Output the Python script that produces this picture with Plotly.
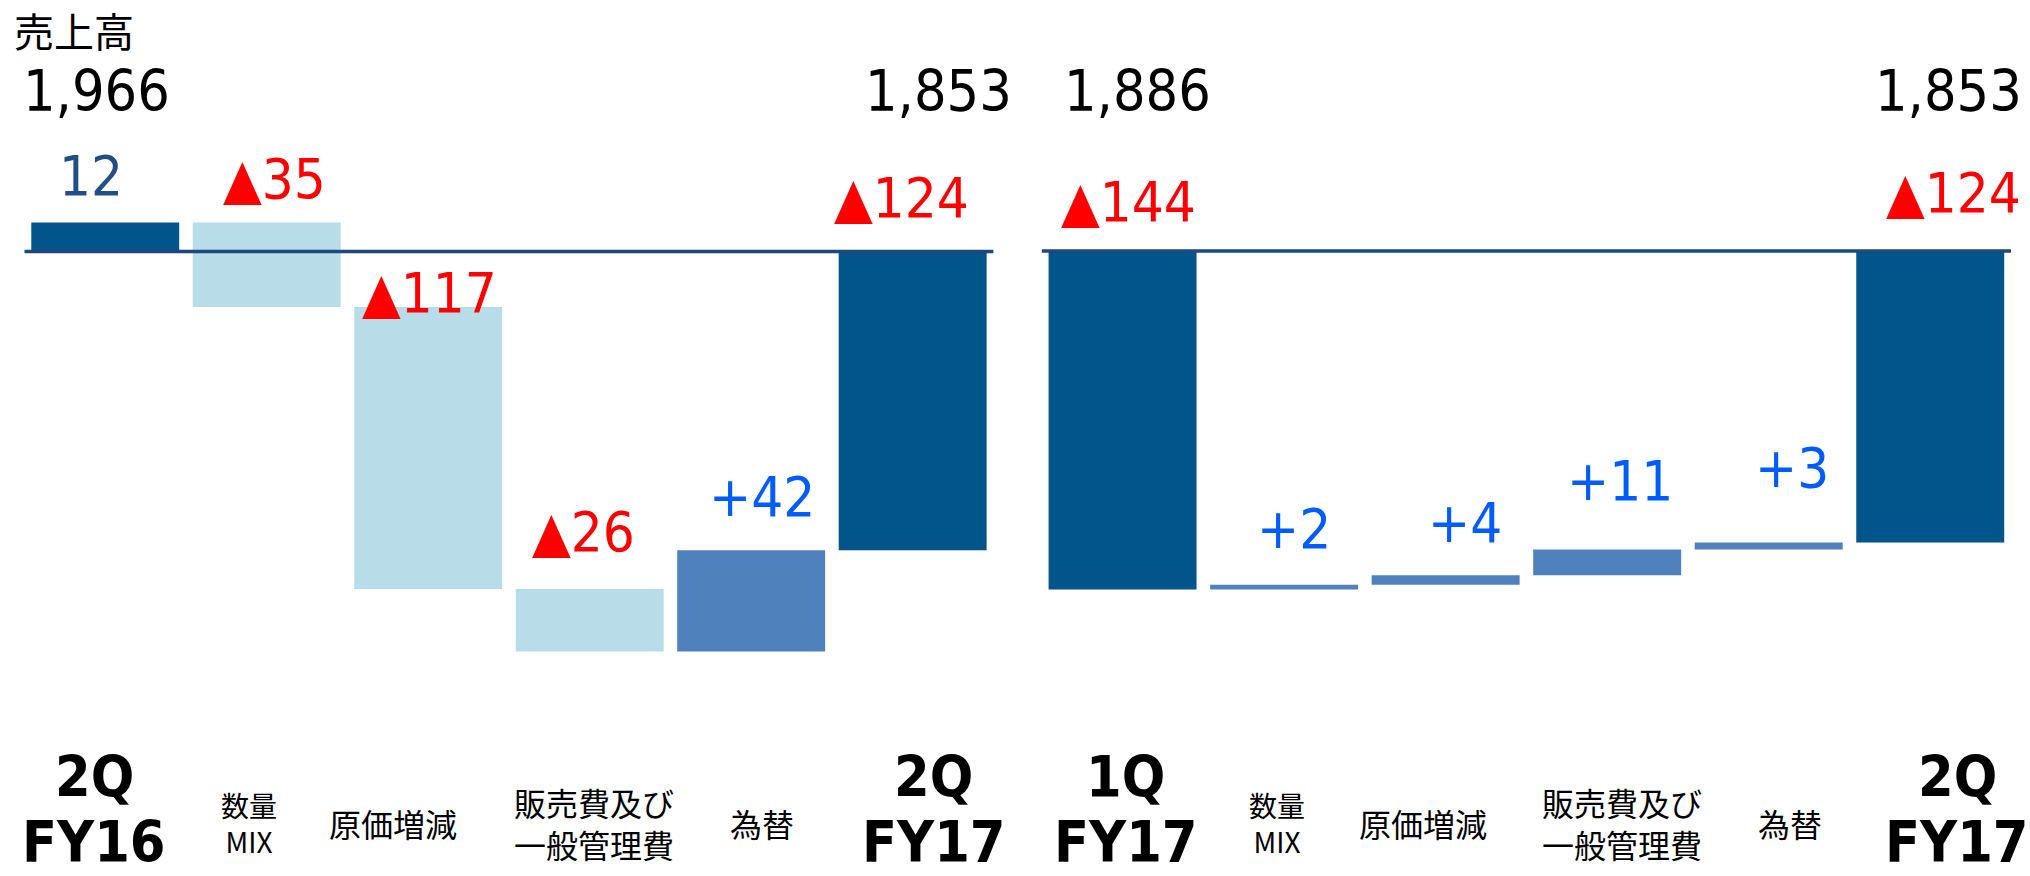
import plotly.graph_objects as go

# ---------------- data ----------------
categories_1 = ["2Q FY16", "数量MIX", "原価増減", "販売費及び一般管理費", "為替", "2Q FY17"]
measures_1 = ["absolute", "relative", "relative", "relative", "relative", "total"]
values_1 = [12, -35, -117, -26, 42, -124]
sales_1 = [1966, None, None, None, None, 1853]
labels_1 = ["2Q\nFY16", "数量\nMIX", "原価増減", "販売費及び\n一般管理費", "為替", "2Q\nFY17"]

categories_2 = ["1Q FY17", "数量MIX", "原価増減", "販売費及び一般管理費", "為替", "2Q FY17"]
measures_2 = ["absolute", "relative", "relative", "relative", "relative", "total"]
values_2 = [-144, 2, 4, 11, 3, -124]
sales_2 = [1886, None, None, None, None, 1853]
labels_2 = ["1Q\nFY17", "数量\nMIX", "原価増減", "販売費及び\n一般管理費", "為替", "2Q\nFY17"]

title_text = "売上高"

# ---------------- style ----------------
W, H = 2030, 876
C_TOTAL = "#02558B"
C_DEC = "#B8DDE8"
C_INC = "#4F81BD"
C_LINE = "#1F497D"
C_RED = "#FF0000"
C_BLUE = "#005CFF"
C_NAVY = "#1F4E89"
NUM_FONT = "DejaVu Sans Condensed, DejaVu Sans, sans-serif"
JP_FONT = "Noto Sans CJK JP, sans-serif"

# per-label pixel offsets (label baseline gap above bar top, horizontal shifts)
gap_1 = [27, 24, -6, 37, 34, 34]
dx_1 = [-14, 8, 1, -6, 11, -11]
gap_2 = [30, 36, 33, 49, 55, 39]
dx_2 = [6, 10, 19, 13, 23, 23]
sales_dx_1 = [-9, 0, 0, 0, 0, 26]
sales_dx_2 = [15, 0, 0, 0, 0, 18]
cat_dx_1 = [-11, -18, -35, 4, 11, 21]
cat_dx_2 = [3, -7, -23, 15, 21, 27]

fig = go.Figure()


def add_panel(cats, measures, vals, sales, labels, xa, ya, gaps, dxs, sdx, cdx):
    xref = "x" if xa == 1 else f"x{xa}"
    yref = "y" if ya == 1 else f"y{ya}"
    fig.add_trace(go.Waterfall(
        x=cats, y=vals, measure=measures,
        xaxis=xref, yaxis=yref,
        totals=dict(marker=dict(color=C_TOTAL, line=dict(width=0))),
        decreasing=dict(marker=dict(color=C_DEC, line=dict(width=0))),
        increasing=dict(marker=dict(color=C_INC, line=dict(width=0))),
        connector=dict(visible=False),
        textinfo="none", hoverinfo="skip", showlegend=False,
    ))
    cum = 0
    for i, (c, m, v) in enumerate(zip(cats, measures, vals)):
        if m == "absolute":
            start, end = 0, v
            cum = v
            shown = v
        elif m == "total":
            start, end = 0, cum
            shown = cum
        else:
            start, end = cum, cum + v
            cum = cum + v
            shown = v
        top = max(start, end)
        if shown < 0:
            txt, col = f"▲{abs(shown)}", C_RED
        elif m == "relative":
            txt, col = f"+{shown}", C_BLUE
        else:
            txt, col = f"{shown}", C_NAVY
        fig.add_annotation(
            x=c, y=top, xref=xref, yref=yref, text=txt, showarrow=False,
            xanchor="center", yanchor="middle", yshift=gaps[i] + 20, xshift=dxs[i],
            font=dict(family=NUM_FONT, size=56, color=col),
        )
        if sales[i] is not None:
            fig.add_annotation(
                x=c, y=1 - 91 / H, xref=xref, yref="paper", text=f"{sales[i]:,}",
                showarrow=False, xanchor="center", yanchor="middle", xshift=sdx[i],
                font=dict(family=NUM_FONT, size=57, color="#000000"),
            )
        # category labels
        lines = labels[i].split("\n")
        if m in ("absolute", "total"):
            fig.add_annotation(
                x=c, y=1 - 777 / H, xref=xref, yref="paper",
                text=f"<b>{lines[0]}</b>", showarrow=False, xanchor="center", yanchor="middle",
                xshift=cdx[i], font=dict(family=NUM_FONT, size=57, color="#000000"), borderpad=0,
            )
            fig.add_annotation(
                x=c, y=0, xref=xref, yref="paper",
                text=f"<b>{lines[1]}</b>", showarrow=False, xanchor="center", yanchor="bottom",
                xshift=cdx[i],
                font=dict(family=NUM_FONT, size=57, color="#000000"), borderpad=0,
            )
        else:
            size = 28 if labels[i].startswith("数量") else 32
            fig.add_annotation(
                x=c, y=1 - 823 / H, xref=xref, yref="paper",
                text="<br>".join(lines), showarrow=False, xanchor="center", yanchor="middle",
                xshift=cdx[i], font=dict(family=JP_FONT, size=size, color="#000000"),
            )
    fig.add_shape(type="line", xref=f"{xref} domain", yref=yref, x0=0, x1=1, y0=0, y1=0,
                  line=dict(color=C_LINE, width=3.5), layer="above")


add_panel(categories_1, measures_1, values_1, sales_1, labels_1, 1, 1, gap_1, dx_1, sales_dx_1, cat_dx_1)
add_panel(categories_2, measures_2, values_2, sales_2, labels_2, 2, 2, gap_2, dx_2, sales_dx_2, cat_dx_2)

fig.add_annotation(
    x=12 / W, y=1 - 30 / H, xref="paper", yref="paper", text=title_text, showarrow=False,
    xanchor="left", yanchor="middle", font=dict(family=JP_FONT, size=40, color="#000000"),
)

axis_common = dict(showgrid=False, zeroline=False, showticklabels=False, showline=False, ticks="",
                   fixedrange=True)
fig.update_layout(
    width=W, height=H,
    margin=dict(l=0, r=0, t=0, b=0, pad=0),
    paper_bgcolor="white", plot_bgcolor="white",
    waterfallgap=0.084,
    xaxis=dict(domain=[24.5 / W, 993.4 / W], range=[-0.5, 5.5], autorange=False, **axis_common),
    xaxis2=dict(domain=[1041.8 / W, 2011.0 / W], range=[-0.5, 5.5], autorange=False,
                anchor="y2", **axis_common),
    yaxis=dict(domain=[0, 1], range=[-259.13, 104.36], **axis_common),
    yaxis2=dict(domain=[0, 1], range=[-265.96, 106.81], anchor="x2", **axis_common),
    showlegend=False,
)

fig.write_html(
    "out.html",
    config={"displayModeBar": False},
    post_script="document.body.style.margin='0';document.body.style.overflow='hidden';",
)
